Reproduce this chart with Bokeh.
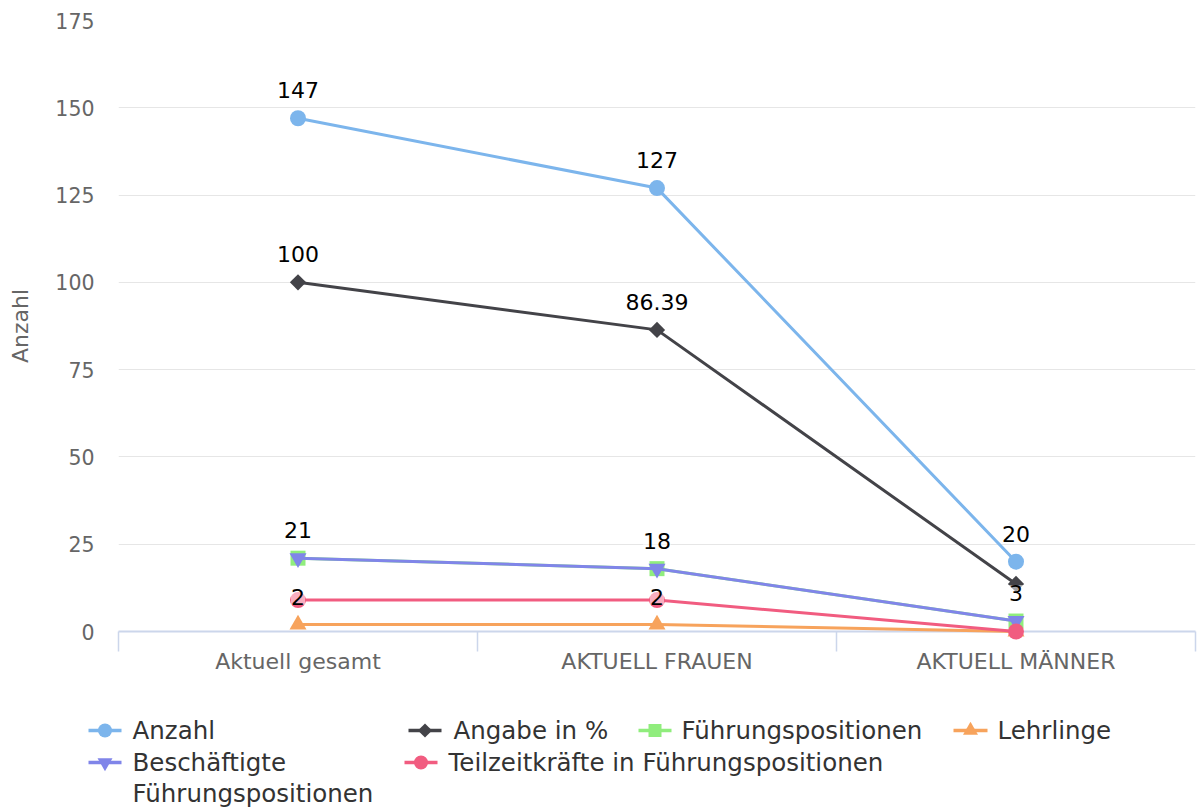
import numpy as np
from bokeh.plotting import figure
from bokeh.models import Range1d, FixedTicker, ColumnDataSource
from bokeh.layouts import column
from bokeh.embed import file_html
from bokeh.resources import INLINE
from bokeh.core.properties import value

# ---------------- data ----------------
categories = ["Aktuell gesamt", "AKTUELL FRAUEN", "AKTUELL MÄNNER"]
y_ticks = [0, 25, 50, 75, 100, 125, 150, 175]

anzahl = [147, 127, 20]
angabe_prozent = [100, 86.39, 13.61]
fuehrungspositionen = [21, 18, 3]
lehrlinge = [2, 2, 0]
beschaeftigte_fp = [21, 18, 3]
teilzeit_fp = [9, 9, 0]

series_names = ["Anzahl", "Angabe in %", "Führungspositionen", "Lehrlinge",
                "Beschäftigte Führungspositionen", "Teilzeitkräfte in Führungspositionen"]
series_values = [anzahl, angabe_prozent, fuehrungspositionen, lehrlinge, beschaeftigte_fp, teilzeit_fp]
# data labels that remain visible in the original (others hidden by overlap)
label_visible = [[1, 1, 1], [1, 1, 0], [1, 1, 1], [1, 1, 0], [0, 0, 0], [0, 0, 0]]

# ---------------- styles ----------------
FONT = "DejaVu Sans"
colors = ["#7cb5ec", "#434348", "#90ed7d", "#f7a35c", "#8085e9", "#f15c80"]
marker_styles = [("circle", 16, 0.0), ("square", 11.5, np.pi / 4), ("square", 15, 0.0),
                 ("triangle", 17, 0.0), ("inverted_triangle", 17, 0.0), ("circle", 16, 0.0)]

W = 1197
FRAME_L, FRAME_R = 118, 1195

p = figure(width=W, height=700, x_range=Range1d(0, len(categories)), y_range=Range1d(0, 175),
           output_backend="svg", toolbar_location=None,
           min_border_left=FRAME_L, min_border_right=W - FRAME_R, min_border_top=20, min_border_bottom=69)
p.outline_line_color = None
p.background_fill_color = "white"
p.border_fill_color = "white"

centers = [i + 0.5 for i in range(len(categories))]

# x axis
p.xaxis.ticker = FixedTicker(ticks=centers, minor_ticks=list(range(len(categories) + 1)))
p.xaxis.major_label_overrides = {c: lab for c, lab in zip(centers, categories)}
p.xaxis.major_tick_line_color = None
p.xaxis.major_tick_out = 0
p.xaxis.major_tick_in = 0
p.xaxis.minor_tick_in = 0
p.xaxis.minor_tick_out = 20
p.xaxis.minor_tick_line_color = "#ccd6eb"
p.xaxis.minor_tick_line_width = 1.5
p.xaxis.axis_line_color = "#ccd6eb"
p.xaxis.axis_line_width = 2
p.xaxis.major_label_standoff = -3
p.xaxis.major_label_text_font = FONT
p.xaxis.major_label_text_font_size = "22px"
p.xaxis.major_label_text_color = "#666666"
p.xgrid.grid_line_color = None

# y axis
p.yaxis.ticker = FixedTicker(ticks=y_ticks)
p.ygrid.ticker = FixedTicker(ticks=y_ticks)
p.yaxis.axis_line_color = None
p.yaxis.major_tick_line_color = None
p.yaxis.minor_tick_line_color = None
p.yaxis.major_tick_out = 0
p.yaxis.major_tick_in = 0
p.yaxis.major_label_standoff = 24
p.yaxis.major_label_text_font = FONT
p.yaxis.major_label_text_font_size = "20.5px"
p.yaxis.major_label_text_color = "#666666"
p.yaxis.axis_label = "Anzahl"
p.yaxis.axis_label_text_font = FONT
p.yaxis.axis_label_text_font_size = "22px"
p.yaxis.axis_label_text_font_style = "normal"
p.yaxis.axis_label_text_color = "#666666"
p.yaxis.axis_label_standoff = 19
p.ygrid.grid_line_color = "#e6e6e6"
p.ygrid.grid_line_width = 1

# series
for name, vals, col, (mk, sz, ang) in zip(series_names, series_values, colors, marker_styles):
    src = ColumnDataSource(dict(x=centers, y=vals))
    r1 = p.line("x", "y", source=src, line_color=col, line_width=3)
    r2 = p.scatter("x", "y", source=src, marker=mk, size=sz, angle=ang,
                   fill_color=col, line_color=col, line_width=0)
    r1.level = "annotation"
    r2.level = "annotation"

# data labels
lx, ly, lt = [], [], []
for vals, vis in zip(series_values, label_visible):
    for c, v, s in zip(centers, vals, vis):
        if s:
            lx.append(c)
            ly.append(v)
            lt.append(f"{v:g}")
lsrc = ColumnDataSource(dict(x=lx, y=ly, t=lt))
rt = p.text("x", "y", text="t", source=lsrc, y_offset=-28, text_align="center",
            text_baseline="middle", text_font=value(FONT), text_font_size="22px",
            text_color="#000000", background_fill_color="white", background_fill_alpha=0.5)
rt.level = "annotation"

# ---------------- legend (its own canvas below; frame aligned with the chart frame) ----------------
LH = 112
lg = figure(width=W, height=LH, x_range=Range1d(FRAME_L, FRAME_R), y_range=Range1d(LH, 0),
            x_axis_type=None, y_axis_type=None,
            min_border_left=FRAME_L, min_border_right=W - FRAME_R, min_border_top=0, min_border_bottom=0,
            output_backend="svg", toolbar_location=None)
lg.outline_line_color = None
lg.grid.visible = False

# (line start, line end, text x, row y) per legend item, in page pixels
legend_pos = [(88, 121, 132, 30), (408, 441, 453, 30), (638, 671, 681, 30),
              (953, 987, 997, 30), (88, 121, 132, 62), (404, 437, 448, 62)]
legend_labels = ["Anzahl", "Angabe in %", "Führungspositionen", "Lehrlinge",
                 "Beschäftigte", "Teilzeitkräfte in Führungspositionen"]
legend_marker_sizes = [14, 10, 13, 15, 15, 14]
LFS = "24.5px"

for (x0, x1, tx, ty), lab, col, (mk, sz, ang), lms in zip(legend_pos, legend_labels, colors,
                                                          marker_styles, legend_marker_sizes):
    a = lg.segment(x0=[x0], y0=[ty], x1=[x1], y1=[ty], line_color=col, line_width=3.5)
    b = lg.scatter(x=[(x0 + x1) / 2], y=[ty], marker=mk, size=lms, angle=ang,
                   fill_color=col, line_color=col, line_width=0)
    c = lg.text(x=[tx], y=[ty], text=[lab], text_align="left", text_baseline="middle",
                text_font=value(FONT), text_font_size=LFS, text_color="#333333")
    for r in (a, b, c):
        r.level = "annotation"
# continuation line of the wrapped legend label
d = lg.text(x=[132], y=[93], text=["Führungspositionen"], text_align="left", text_baseline="middle",
            text_font=value(FONT), text_font_size=LFS, text_color="#333333")
d.level = "annotation"

layout = column(p, lg, spacing=0)
open("out.html", "w").write(file_html(layout, INLINE))
